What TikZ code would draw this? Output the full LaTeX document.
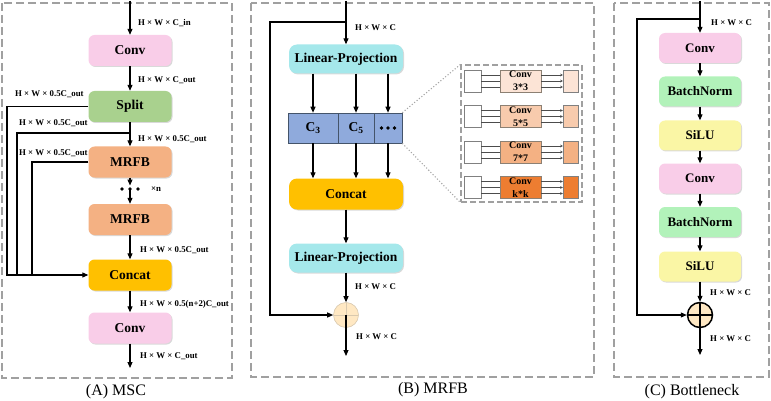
\documentclass[tikz,border=0pt]{standalone}
\usepackage{fontspec}
\setmainfont{Liberation Serif}
\usetikzlibrary{arrows.meta,shadows}
\definecolor{cpink}{RGB}{249,205,232}
\definecolor{cgreen}{RGB}{169,209,142}
\definecolor{corange}{RGB}{244,177,131}
\definecolor{cgold}{RGB}{255,192,0}
\definecolor{ccyan}{RGB}{165,232,235}
\definecolor{cblue}{RGB}{143,170,220}
\definecolor{cblueline}{RGB}{68,84,106}
\definecolor{cbn}{RGB}{178,242,186}
\definecolor{csilu}{RGB}{250,246,165}
\definecolor{cbeige}{RGB}{255,232,195}
\definecolor{cframe}{RGB}{160,160,160}
\definecolor{rowa}{RGB}{252,228,214}
\definecolor{rowb}{RGB}{248,203,173}
\definecolor{rowc}{RGB}{244,177,131}
\definecolor{rowd}{RGB}{237,125,49}
\begin{document}
\begin{tikzpicture}[x=1pt,y=-1pt,
  blk/.style={draw=none,rounded corners=6pt,minimum width=83pt,minimum height=31pt,
    inner sep=0pt,font=\fontsize{13.5}{14}\selectfont\bfseries,
    drop shadow={shadow xshift=1pt,shadow yshift=-1pt,opacity=0.3}},
  lpbox/.style={blk,rounded corners=8pt,minimum width=114pt,minimum height=29pt},
  cbk/.style={blk,minimum width=82pt,minimum height=30pt,font=\fontsize{13}{14}\selectfont\bfseries},
  cell/.style={draw=cblueline,fill=cblue,minimum height=30pt,inner sep=0pt,line width=0.6pt,
    font=\fontsize{13.5}{14}\selectfont\bfseries},
  lbl/.style={font=\fontsize{8.8}{9}\selectfont\bfseries,anchor=west,inner sep=0pt},
  captxt/.style={font=\fontsize{16}{18}\selectfont},
  arr/.style={-{Triangle[length=6pt,width=5pt]},line width=1.1pt},
  ln/.style={line width=1.1pt},
  frame/.style={draw=cframe,dash pattern=on 8pt off 4pt,line width=1.5pt},
  insetframe/.style={draw=cframe,dash pattern=on 6pt off 3pt,line width=1.1pt},
  plusc/.style={circle,minimum size=25pt,inner sep=0pt,fill=cbeige},
  wbox/.style={draw=gray,fill=white,minimum width=17pt,minimum height=22pt,inner sep=0pt,line width=0.5pt},
  kbox/.style={draw=gray!80!brown,minimum width=41pt,minimum height=22pt,inner sep=0pt,line width=0.5pt,
    font=\fontsize{10}{13}\selectfont\bfseries,align=center},
  rbox/.style={draw=gray,minimum width=15pt,minimum height=22pt,inner sep=0pt,line width=0.5pt},
  thinl/.style={draw=black!70,line width=0.7pt},
  thina/.style={thinl,-{Stealth[length=2.5pt,width=2.5pt]}},
  dotl/.style={draw=gray!70,dotted,line width=1.1pt}
]
\useasboundingbox (0,0) rectangle (771,401);

% ---------------- Panel A ----------------
\draw[frame] (2,3) rectangle (232,378);
\node[blk,fill=cpink] (a1) at (130,50.5) {Conv};
\node[blk,fill=cgreen] (a2) at (130,106.5) {Split};
\node[blk,fill=corange] (a3) at (130,162) {MRFB};
\coordinate (adots) at (130,189);
\fill (122,189) circle (1.8pt) (adots) circle (1.8pt) (138,189) circle (1.8pt);
\node[blk,fill=corange] (a4) at (130,219.5) {MRFB};
\node[blk,fill=cgold] (a5) at (130,275) {Concat};
\node[blk,fill=cpink] (a6) at (130,328) {Conv};
\coordinate (ain) at (130,1);
\coordinate (aout) at (130,368);
\coordinate (aj) at (130,133);
\coordinate (aLa) at (7,200);
\coordinate (aLb) at (17,275);
\coordinate (aLc) at (32,275);
\coordinate (adotsT) at (130,185.5);
\draw[arr] (ain) -- (a1);
\draw[arr] (a1) -- (a2);
\draw[arr] (a2) -- (a3);
\draw[arr] (a3) -- (adotsT);
\draw[arr] (adots) -- (a4);
\draw[arr] (a4) -- (a5);
\draw[arr] (a5) -- (a6);
\draw[arr] (a6) -- (aout);
\draw[arr] (a2.west) -| (aLa) |- (a5.west);
\draw[ln] (aj) -| (aLb);
\draw[ln] (a3.west) -| (aLc);
\node[lbl] at (151,189) {×n};
\node[lbl] at (138,23) {H × W × C\_in};
\node[lbl] at (138,80) {H × W × C\_out};
\node[lbl] at (15,94) {H × W × 0.5C\_out};
\node[lbl] at (19,123) {H × W × 0.5C\_out};
\node[lbl] at (138,139) {H × W × 0.5C\_out};
\node[lbl] at (19,153) {H × W × 0.5C\_out};
\node[lbl] at (140,250) {H × W × 0.5C\_out};
\node[lbl] at (140,304) {H × W × 0.5(n+2)C\_out};
\node[lbl] at (140,356) {H × W × C\_out};
\node[captxt] at (116,392) {(A) MSC};

% ---------------- Panel B ----------------
\draw[frame] (251,3) rectangle (594,377);
\node[lpbox,fill=ccyan] (b1) at (346,59) {Linear-Projection};
\node[cell,minimum width=50pt] (c3) at (313,128) {C\textsubscript{3}};
\node[cell,minimum width=36pt] (c5) at (356,128) {C\textsubscript{5}};
\node[cell,minimum width=28pt] (cd) at (388,128) {};
\fill (381.5,128) circle (1.9pt) (388,128) circle (1.9pt) (394.5,128) circle (1.9pt);
\node[lpbox,fill=cgold,minimum height=31pt] (b2) at (346,194) {Concat};
\node[lpbox,fill=ccyan] (b3) at (346,258) {Linear-Projection};
\node[plusc,draw=cbeige!70!gray,line width=0.6pt,
  path picture={\draw[line width=1pt] (path picture bounding box.west) -- (path picture bounding box.east)
    (path picture bounding box.north) -- (path picture bounding box.south);}] (bp) at (346,315) {};
\coordinate (bin) at (346,1);
\coordinate (bj) at (346,22);
\coordinate (bL) at (270,200);
\coordinate (bout) at (346,356);
\draw[arr] (bin) -- (b1);
\foreach \c in {c3,c5,cd} {
  \draw[arr] (b1.south -| \c) -- (\c.north);
  \draw[arr] (\c.south) -- (b2.north -| \c);
}
\draw[arr] (b2) -- (b3);
\draw[arr] (b3) -- (bp);
\draw[arr] (bp.center) -- (bout);
\draw[arr] (bj) -| (bL) |- (bp.west);
\node[lbl] at (355,28) {H × W × C};
\node[lbl] at (355,287) {H × W × C};
\node[lbl] at (356,337) {H × W × C};
\node[captxt] at (433,390) {(B) MRFB};

% inset
\node[insetframe,minimum width=121pt,minimum height=137pt,inner sep=0pt] (inset) at (521.5,133.5) {};
\draw[dotl] (cd.north east) -- (inset.north west);
\draw[dotl] (cd.south east) -- (inset.south west);
\foreach \y/\col/\k [count=\i] in {81/rowa/3*3,116.5/rowb/5*5,152/rowc/7*7,187.5/rowd/k*k} {
  \node[wbox] (w\i) at (472.5,\y) {};
  \node[kbox,fill=\col] (k\i) at (520.5,\y) {Conv\\\k};
  \node[rbox,fill=\col] (r\i) at (570.5,\y) {};
  \foreach \d in {-6,0,6} {
    \draw[thinl] (w\i.east |- 0,\y+\d) -- (k\i.west |- 0,\y+\d);
    \draw[thina] (k\i.east |- 0,\y+\d) -- (r\i.west |- 0,\y+\d);
  }
}

% ---------------- Panel C ----------------
\draw[frame] (614,3) rectangle (769,377);
\node[cbk,fill=cpink] (d1) at (700,48) {Conv};
\node[cbk,fill=cbn] (d2) at (700,91.5) {BatchNorm};
\node[cbk,fill=csilu] (d3) at (700,135.5) {SiLU};
\node[cbk,fill=cpink] (d4) at (700,178.5) {Conv};
\node[cbk,fill=cbn] (d5) at (700,222) {BatchNorm};
\node[cbk,fill=csilu] (d6) at (700,266.5) {SiLU};
\node[plusc,draw=black,line width=1.5pt,
  path picture={\draw[line width=1.3pt] (path picture bounding box.west) -- (path picture bounding box.east)
    (path picture bounding box.north) -- (path picture bounding box.south);}] (dp) at (700,315) {};
\coordinate (din) at (700,1);
\coordinate (dj) at (700,19);
\coordinate (dL) at (637,200);
\coordinate (dout) at (700,355);
\draw[arr] (din) -- (d1);
\draw[arr] (d1) -- (d2);
\draw[arr] (d2) -- (d3);
\draw[arr] (d3) -- (d4);
\draw[arr] (d4) -- (d5);
\draw[arr] (d5) -- (d6);
\draw[arr] (d6) -- (dp);
\draw[arr] (dp.center) -- (dout);
\draw[arr] (dj) -| (dL) |- (dp.west);
\node[lbl] at (711,23) {H × W × C};
\node[lbl] at (710,293) {H × W × C};
\node[lbl] at (710,339) {H × W × C};
\node[captxt] at (692,392) {(C) Bottleneck};
\end{tikzpicture}
\end{document}
